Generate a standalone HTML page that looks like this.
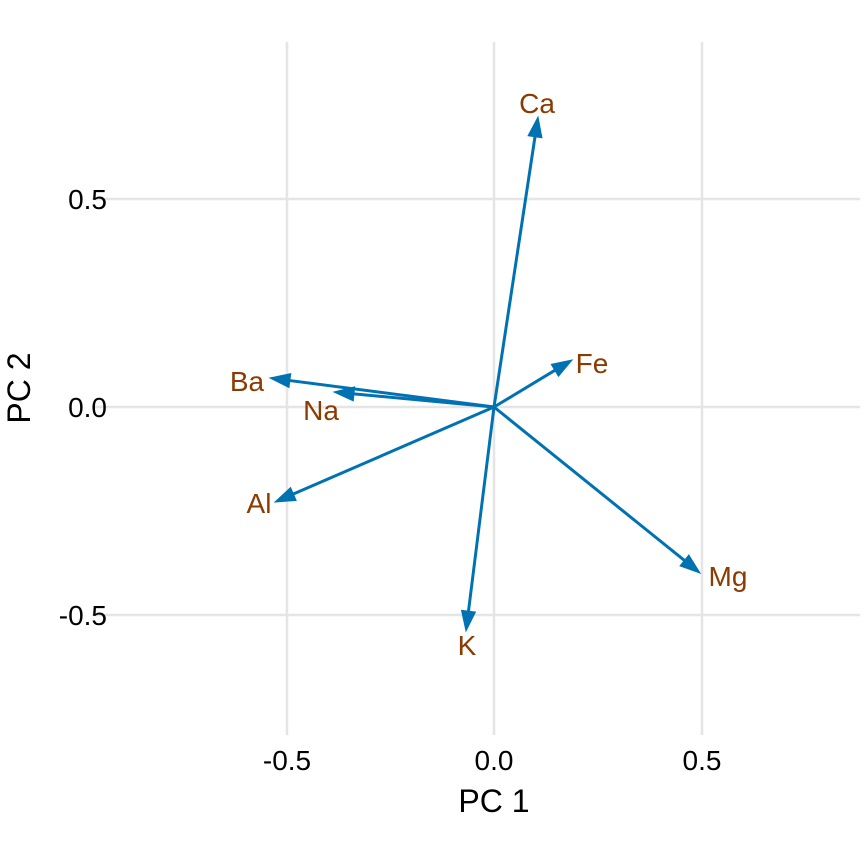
<!DOCTYPE html>
<html><head><meta charset="utf-8"><style>
html,body{margin:0;padding:0;background:#fff;}
svg{display:block;font-family:"Liberation Sans",sans-serif;}
</style></head><body>
<svg width="864" height="864" viewBox="0 0 864 864">
<g stroke="#e5e5e5" stroke-width="2.5">
<line x1="92" y1="199" x2="860" y2="199"/>
<line x1="92" y1="407" x2="860" y2="407"/>
<line x1="92" y1="615" x2="860" y2="615"/>
<line x1="287" y1="42" x2="287" y2="735"/>
<line x1="494" y1="42" x2="494" y2="735"/>
<line x1="702" y1="42" x2="702" y2="735"/>
</g>
<g font-size="28" fill="#000">
<text x="107" y="209" text-anchor="end">0.5</text>
<text x="107" y="417" text-anchor="end">0.0</text>
<text x="107" y="625" text-anchor="end">-0.5</text>
<text x="287" y="770" text-anchor="middle">-0.5</text>
<text x="494" y="770" text-anchor="middle">0.0</text>
<text x="702" y="770" text-anchor="middle">0.5</text>
</g>
<text x="494" y="812" font-size="32" text-anchor="middle" fill="#000">PC 1</text>
<text transform="translate(30,388) rotate(-90)" font-size="32" text-anchor="middle" fill="#000">PC 2</text>
<g id="arrows" stroke="#0072B2" stroke-width="3" fill="#0072B2"></g>
<g font-size="28" fill="#8B3A00" text-anchor="middle">
<text x="537" y="113">Ca</text>
<text x="592" y="373">Fe</text>
<text x="247" y="391">Ba</text>
<text x="321" y="420">Na</text>
<text x="259" y="513">Al</text>
<text x="467" y="655">K</text>
<text x="728" y="586">Mg</text>
</g>
<script>
var tips=[[538,117],[572,360],[270,378],[334,392],[275,502],[466,631],[700,573]];
var g=document.getElementById('arrows'),ns='http://www.w3.org/2000/svg',ox=494,oy=407;
tips.forEach(function(t){
 var dx=t[0]-ox,dy=t[1]-oy,L=Math.hypot(dx,dy),ux=dx/L,uy=dy/L,hl=20,hw=7;
 var bx=t[0]-ux*hl,by=t[1]-uy*hl;
 var l=document.createElementNS(ns,'line');
 l.setAttribute('x1',ox);l.setAttribute('y1',oy);l.setAttribute('x2',bx);l.setAttribute('y2',by);g.appendChild(l);
 var p=document.createElementNS(ns,'polygon');
 p.setAttribute('points',t[0]+','+t[1]+' '+(bx-uy*hw)+','+(by+ux*hw)+' '+(bx+uy*hw)+','+(by-ux*hw));
 p.setAttribute('stroke-width','1');g.appendChild(p);
});
</script>
</svg>
</body></html>
